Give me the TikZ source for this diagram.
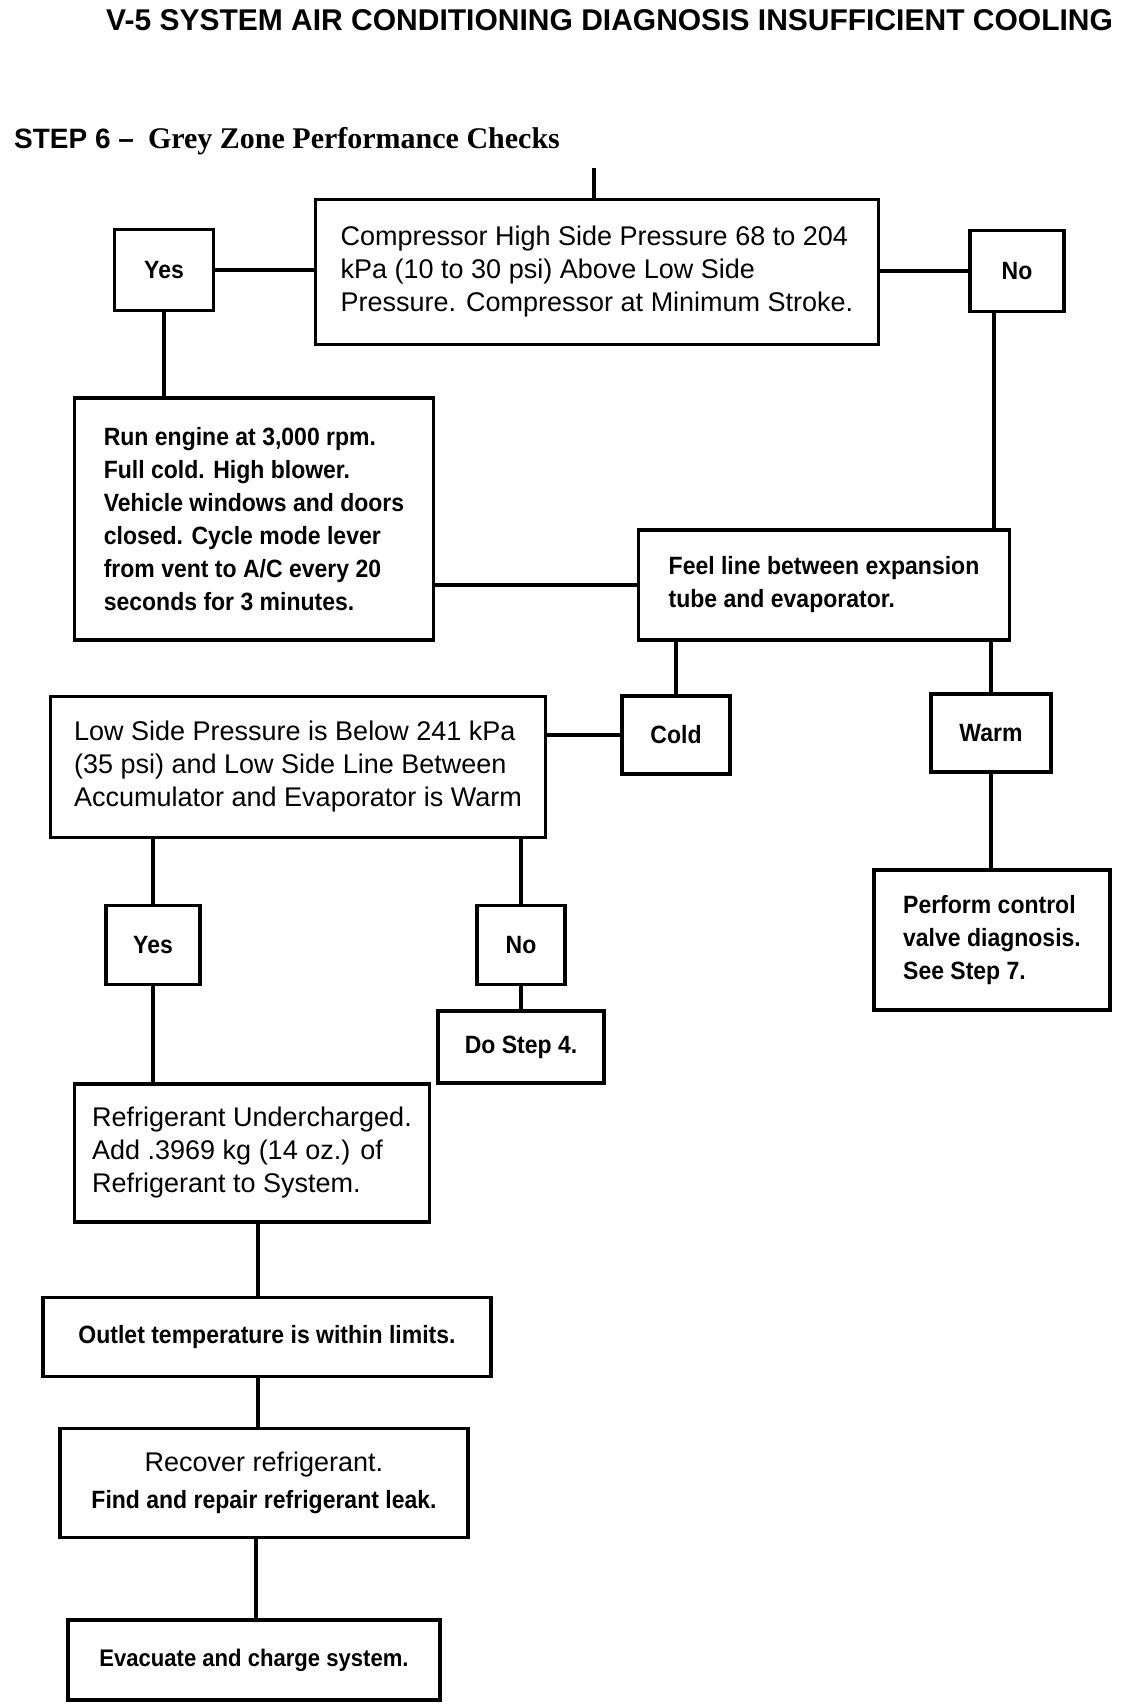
\documentclass[tikz,border=0pt]{standalone}
\usepackage{fontspec}
\setmainfont{Liberation Sans}
\newfontfamily\heavysans[FakeStretch=0.92]{Liberation Sans}
\newfontfamily\headserif{Liberation Serif}
\begin{document}
\begin{tikzpicture}[x=1pt,y=-1pt]
	\useasboundingbox (0,0) rectangle (1120,1706);
	\begin{scope}[every node/.style={inner sep=0pt}]
		\node[anchor=west,font=\bfseries\fontsize{30}{36}\selectfont] (title) at (106,20) {V-5 SYSTEM AIR CONDITIONING DIAGNOSIS INSUFFICIENT COOLING};
		\node[anchor=base west] (step) at (14,148) {{\bfseries\fontsize{28}{34}\selectfont STEP 6 –}\hspace{14pt}{\headserif\bfseries\fontsize{30}{36}\selectfont Grey Zone Performance Checks}};
	\end{scope}
	\coordinate (entry) at (594,168);

	% boxes with the larger plain text
	\begin{scope}[every node/.style={draw,line width=3.5pt,inner sep=0pt,align=left,font=\fontsize{27}{33}\selectfont}]
		\node[minimum width=563pt,minimum height=145pt] (main) at (597,272) {Compressor High Side Pressure 68 to 204\\kPa (10 to 30 psi) Above Low Side\\Pressure. Compressor at Minimum Stroke.};
		\node[minimum width=495pt,minimum height=141pt] (low) at (298,767) {Low Side Pressure is Below 241 kPa\\(35 psi) and Low Side Line Between\\Accumulator and Evaporator is Warm};
		\node[minimum width=355pt,minimum height=138pt] (refrig) at (252,1153) {Refrigerant Undercharged.\\Add .3969 kg (14 oz.) of\\Refrigerant to System.};
		\node[minimum width=408pt,minimum height=109pt,align=center] (recover) at (264,1483) {Recover refrigerant.\\[4pt]{\heavysans\bfseries\fontsize{25}{33}\selectfont Find and repair refrigerant leak.}};
	\end{scope}

	% boxes with the heavier text
	\begin{scope}[every node/.style={draw,line width=3.5pt,inner sep=0pt,align=left,font=\heavysans\bfseries\fontsize{25}{33}\selectfont}]
		\node[minimum width=99pt,minimum height=81pt] (yesA) at (164,270) {Yes};
		\node[minimum width=94pt,minimum height=81pt] (noA) at (1017,271) {No};
		\node[minimum width=359pt,minimum height=242pt] (run) at (254,519) {Run engine at 3,000 rpm.\\Full cold. High blower.\\Vehicle windows and doors\\closed. Cycle mode lever\\from vent to A/C every 20\\seconds for 3 minutes.};
		\node[minimum width=371pt,minimum height=110pt] (feel) at (824,585) {Feel line between expansion\\tube and evaporator.};
		\node[minimum width=108pt,minimum height=78pt] (cold) at (676,735) {Cold};
		\node[minimum width=120pt,minimum height=78pt] (warm) at (991,733) {Warm};
		\node[minimum width=236pt,minimum height=140pt] (perform) at (992,940) {Perform control\\valve diagnosis.\\See Step 7.};
		\node[minimum width=94pt,minimum height=79pt] (yesB) at (153,945) {Yes};
		\node[minimum width=88pt,minimum height=79pt] (noB) at (521,945) {No};
		\node[minimum width=166pt,minimum height=72pt] (dostep) at (521,1047) {Do Step 4.};
		\node[minimum width=448pt,minimum height=79pt] (outlet) at (267,1337) {Outlet temperature is within limits.};
		\node[minimum width=372pt,minimum height=80pt,font=\heavysans\bfseries\fontsize{24}{30}\selectfont] (evac) at (254,1660) {Evacuate and charge system.};
	\end{scope}

	% connecting lines
	\begin{scope}[line width=4.5pt]
		\draw (entry) -- (entry |- main.north);
		\draw (yesA.east) -- (yesA.east -| main.west);
		\draw (main.east |- noA.west) -- (noA.west);
		\draw (yesA.south) -- (yesA.south |- run.north);
		\draw ([xshift=-23pt]noA.south) -- ([xshift=-23pt]noA.south |- feel.north);
		\draw (run.east |- feel.west) -- (feel.west);
		\draw (cold.north |- feel.south) -- (cold.north);
		\draw (warm.north |- feel.south) -- (warm.north);
		\draw (low.east |- cold.west) -- (cold.west);
		\draw (warm.south) -- (warm.south |- perform.north);
		\draw (yesB.north |- low.south) -- (yesB.north);
		\draw (noB.north |- low.south) -- (noB.north);
		\draw (noB.south) -- (dostep.north);
		\draw (yesB.south) -- (yesB.south |- refrig.north);
		\draw ([xshift=6pt]refrig.south) -- ([xshift=6pt]refrig.south |- outlet.north);
		\draw ([xshift=-9pt]outlet.south) -- ([xshift=-9pt]outlet.south |- recover.north);
		\draw ([xshift=-8pt]recover.south) -- ([xshift=-8pt]recover.south |- evac.north);
	\end{scope}
\end{tikzpicture}
\end{document}
